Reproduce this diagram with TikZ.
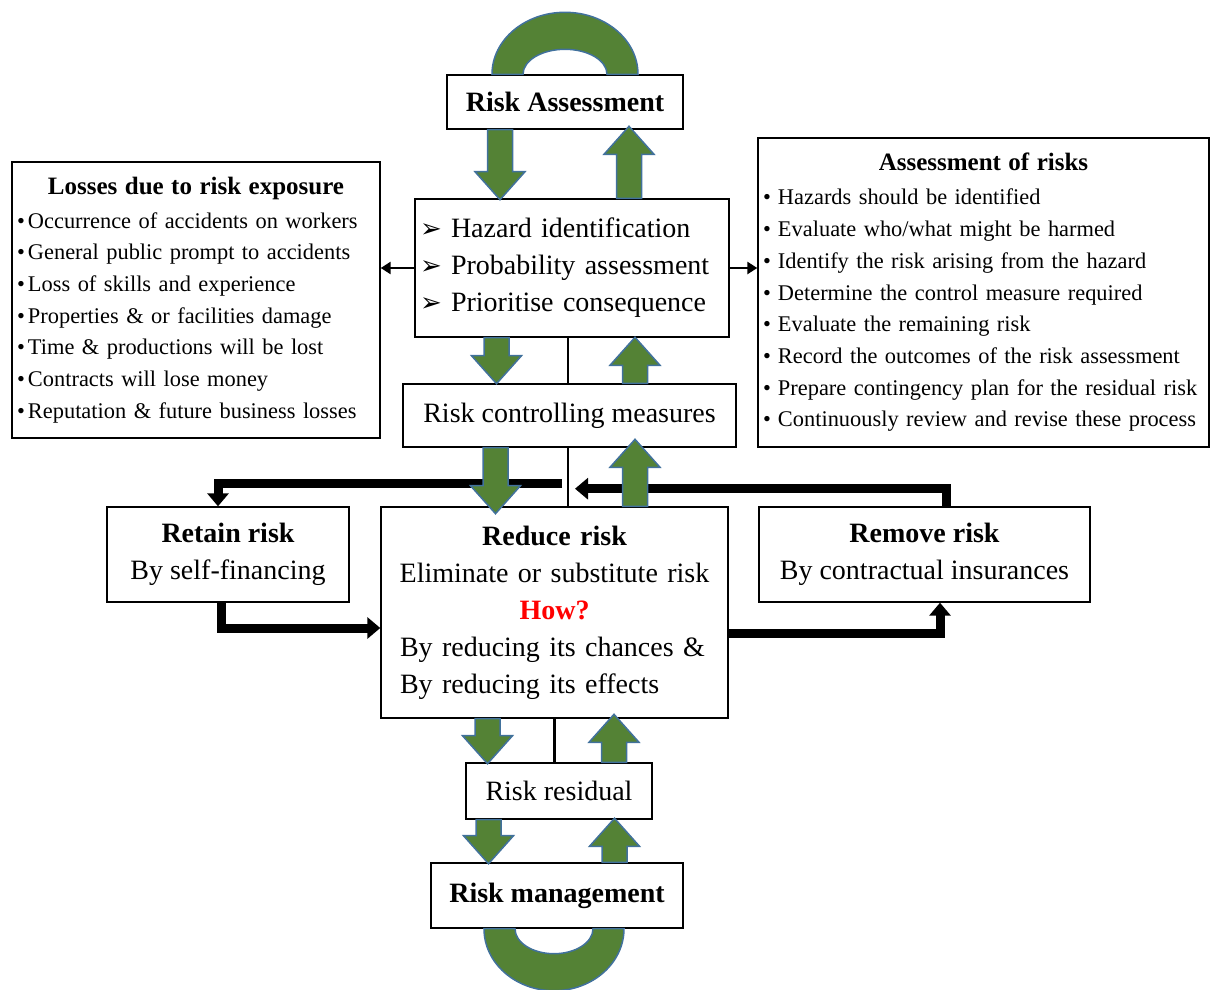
\documentclass[tikz,border=0pt]{standalone}
\usepackage{fontspec}
\setmainfont{Liberation Serif}
\newfontfamily\symfont{DejaVu Sans}
\usetikzlibrary{arrows.meta,positioning,calc}
\definecolor{ggreen}{HTML}{548235}
\definecolor{gedge}{HTML}{41719C}
\newcommand{\tri}[1]{\makebox[31pt][l]{\symfont\fontsize{26}{26}\selectfont ➢}#1}
\newcommand{\bul}[2]{\mbox{\makebox[#1][l]{•}#2}}
\newcommand{\ctr}[1]{\makebox[\hsize][c]{#1}}

\begin{document}
\begin{tikzpicture}[x=1pt,y=-1pt,
  box/.style={draw,line width=1.4pt,fill=white,inner sep=5pt,align=center,font=\fontsize{28}{37}\selectfont},
  list/.style={box,align=left,font=\fontsize{22.4}{31.7}\selectfont},
  stem/.style={line width=2.5pt},
  bigar/.style={line width=9pt,-{Triangle[width=21pt,length=13pt]}},
  smallar/.style={line width=2.5pt,-{Triangle[width=12pt,length=10pt]}},
  gshape/.style={fill=ggreen,draw=gedge,line width=1.5pt},
  pics/gdown/.style={code={\draw[gshape] (-12.5,0) -- (12.5,0) -- (12.5,#1-28) -- (25,#1-28) -- (0,#1) -- (-25,#1-28) -- (-12.5,#1-28) -- cycle;}},
  pics/gup/.style={code={\draw[gshape] (-12.5,0) -- (12.5,0) -- (12.5,-#1+28) -- (25,-#1+28) -- (0,-#1) -- (-25,-#1+28) -- (-12.5,-#1+28) -- cycle;}}]
\useasboundingbox (0,0) rectangle (1210,990);
% boxes
\node[box,minimum width=236pt,minimum height=54pt,font=\fontsize{28}{37}\selectfont\bfseries] (ra) at (565,102) {Risk Assessment};
\node[box,align=left,text width=304pt,minimum height=138pt] (haz) at (572,268)
  {\tri{Hazard identification}\\ \tri{Probability assessment}\\ \tri{Prioritise consequence}};
\node[box,minimum width=333pt,minimum height=63pt] (rcm) at (569.5,415.5) {Risk controlling measures};
\node[box,minimum width=242pt,minimum height=95pt] (ret) at (228,554.5) {\textbf{Retain risk}\\ By self-financing};
\node[box,align=left,text width=337pt,minimum height=211pt] (red) at (554.5,612.5)
  {\ctr{\textbf{Reduce risk}}\\ \ctr{Eliminate or substitute risk}\\ \ctr{\color{red}\textbf{How?}}\\
   \hspace*{14pt}By reducing its chances \&\\ \hspace*{14pt}By reducing its effects};
\node[box,minimum width=331pt,minimum height=95pt] (rem) at (924.5,554.5) {\textbf{Remove risk}\\ By contractual insurances};
\node[box,minimum width=186pt,minimum height=56pt] (res) at (559,791) {Risk residual};
\node[box,minimum width=252pt,minimum height=65pt,font=\fontsize{28}{37}\selectfont\bfseries] (mgmt) at (557,895.5) {Risk management};
\node[list,text width=358pt,minimum height=276pt] (loss) at (196,300)
  {\ctr{\fontsize{25}{31.7}\selectfont\bfseries Losses due to risk exposure}\\[2.3pt]
   \bul{11pt}{Occurrence of accidents on workers}\\
   \bul{11pt}{General public prompt to accidents}\\
   \bul{11pt}{Loss of skills and experience}\\
   \bul{11pt}{Properties \& or facilities damage}\\
   \bul{11pt}{Time \& productions will be lost}\\
   \bul{11pt}{Contracts will lose money}\\
   \bul{11pt}{Reputation \& future business losses}};
\node[list,text width=441pt,minimum height=309pt] (ass) at (983.5,292.5)
  {\ctr{\fontsize{25}{31.7}\selectfont\bfseries Assessment of risks}\\[2.3pt]
   \bul{15pt}{Hazards should be identified}\\
   \bul{15pt}{Evaluate who/what might be harmed}\\
   \bul{15pt}{Identify the risk arising from the hazard}\\
   \bul{15pt}{Determine the control measure required}\\
   \bul{15pt}{Evaluate the remaining risk}\\
   \bul{15pt}{Record the outcomes of the risk assessment}\\
   \bul{15pt}{Prepare contingency plan for the residual risk}\\
   \bul{15pt}{Continuously review and revise these process}};
% loops above and below
\draw[gshape] ($(ra.north)+(-73,0)$) arc[start angle=180,end angle=360,x radius=73,y radius=62]
  -- ($(ra.north)+(42,0)$) arc[start angle=0,end angle=-180,x radius=42,y radius=25] -- cycle;
\draw[gshape] ($(mgmt.south)+(-73,0)$) arc[start angle=180,end angle=0,x radius=70,y radius=62]
  -- ($(mgmt.south)+(36,0)$) arc[start angle=0,end angle=180,x radius=39,y radius=25] -- cycle;
% side arrows
\draw[smallar] (haz.west) -- (loss.east |- haz.west);
\draw[smallar] (haz.east) -- (ass.west |- haz.east);
% stems
\coordinate (s1) at ($(haz.south)+(-4,0)$);
\draw[stem] (s1) -- (s1 |- rcm.north);
\coordinate (s2) at ($(rcm.south)+(-1.5,0)$);
\draw[stem] (s2) -- (s2 |- red.north);
\draw[stem] (red.south) -- (red.south |- res.north);
% black flows
\coordinate (toret) at ($(rcm.south)+(-7.5,36)$);
\coordinate (fromrem) at ($(rcm.south)+(5.5,41)$);
\draw[bigar] (toret) -| ($(ret.north)+(-10,0)$);
\draw[bigar] ($(rem.north)+(21.5,0)$) |- (fromrem);
\draw[bigar] ($(ret.south)+(-7,0)$) |- ($(red.west)+(0,15.5)$);
\draw[bigar] ($(red.east)+(0,20.5)$) -| ($(rem.south)+(15.5,0)$);
% green flows
\pic at ($(ra.south)+(-65,0)$) {gdown=70};
\pic at ($(haz.north)+(57,0)$) {gup=72};
\pic at ($(haz.south)+(-75.5,0)$) {gdown=46};
\pic at ($(rcm.north)+(65.5,0)$) {gup=46};
\pic at ($(rcm.south)+(-74,0)$) {gdown=66};
\pic at ($(red.north)+(80.5,0)$) {gup=67};
\pic at ($(red.south)+(-67,0)$) {gdown=45};
\pic at ($(res.north)+(55,0)$) {gup=48};
\pic at ($(res.south)+(-70.5,0)$) {gdown=44};
\pic at ($(mgmt.north)+(57.5,0)$) {gup=44};
\end{tikzpicture}
\end{document}
